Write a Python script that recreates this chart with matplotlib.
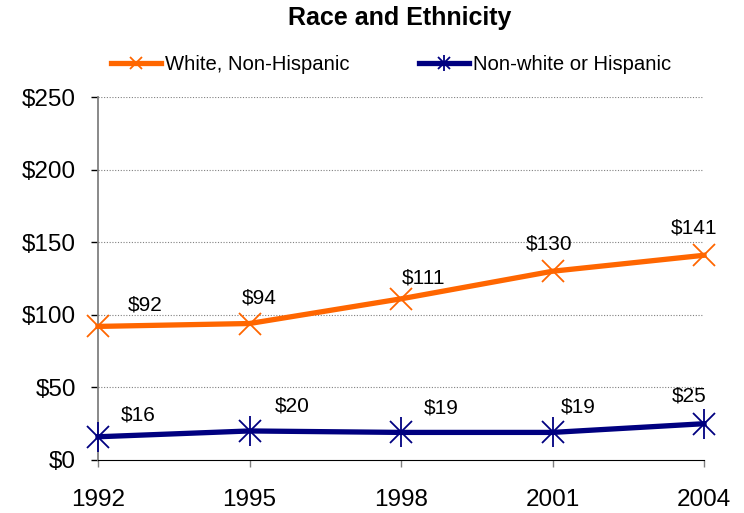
import matplotlib
matplotlib.use('Agg')
from matplotlib import pyplot as plt
from matplotlib.lines import Line2D
from matplotlib.legend_handler import HandlerTuple
import numpy as np

plt.rcParams['font.family'] = ['Liberation Sans', 'DejaVu Sans']

years = [1992, 1995, 1998, 2001, 2004]
white = [92, 94, 111, 130, 141]
nonwhite = [16, 20, 19, 19, 25]
series_names = ['White, Non-Hispanic', 'Non-white or Hispanic']
yticks = [0, 50, 100, 150, 200, 250]

# label offsets in pixels (dx, dy) from each point
white_off = [(47, 21), (10, 26), (23, 21), (-3, 27), (-10, 27)]
nonwhite_off = [(40, 22), (43, 25), (40, 24), (26, 25), (-15, 28)]

orange = '#FF6600'
navy = '#000080'

fig = plt.figure(figsize=(7.44, 5.13), dpi=100)
ax = fig.add_axes([98/744, 1-460/513, 606/744, 363/513])

l1, = ax.plot(years, white, color=orange, lw=3.8, marker='x', ms=16,
              mew=1.3, clip_on=False, zorder=3)
l2, = ax.plot(years, nonwhite, color=navy, lw=3.8, marker='x', ms=16,
              mew=1.3, clip_on=False, zorder=3)
l2b, = ax.plot(years, nonwhite, color=navy, lw=0, marker='|', ms=22,
               mew=1.3, clip_on=False, zorder=3)

for x, y, (dx, dy) in zip(years, white, white_off):
    ax.annotate(f'${y}', (x, y), xytext=(dx, dy), textcoords='offset pixels',
                ha='center', va='center', fontsize=15)
for x, y, (dx, dy) in zip(years, nonwhite, nonwhite_off):
    ax.annotate(f'${y}', (x, y), xytext=(dx, dy), textcoords='offset pixels',
                ha='center', va='center', fontsize=15)

ax.set_xlim(1992, 2004)
ax.set_ylim(0, 250)
ax.set_xticks(years)
ax.set_yticks(yticks)
ax.set_yticklabels([f'${v}' for v in yticks])
ax.tick_params(axis='both', labelsize=17.5, length=5, width=1)
ax.tick_params(axis='x', pad=16, color='#808080')
ax.tick_params(axis='y', pad=11)

for v in yticks[1:]:
    ax.axhline(v, color='#808080', lw=0.8, ls=(0, (1, 1.5)), zorder=1)

ax.spines['top'].set_visible(False)
ax.spines['right'].set_visible(False)
ax.spines['left'].set_color('#808080')
ax.spines['left'].set_linewidth(1.3)
ax.spines['bottom'].set_color('black')
ax.spines['bottom'].set_zorder(4)

fig.text(400/744, 1-18/513, 'Race and Ethnicity', ha='center', va='center',
         fontsize=18, fontweight='bold')

h1 = Line2D([], [], color=orange, lw=3.8, marker='x', ms=8, mew=1.3)
h2a = Line2D([], [], color=navy, lw=3.8, marker='x', ms=8, mew=1.3)
h2b = Line2D([], [], color=navy, lw=0, marker='|', ms=11, mew=1.3)
fig.legend([h1, (h2a, h2b)], series_names, loc='center',
           bbox_to_anchor=(391/744, 1-65/513), ncol=2, frameon=False,
           fontsize=14.6, handlelength=2.46, handletextpad=0.2,
           columnspacing=3.4, handler_map={tuple: HandlerTuple(ndivide=1)})

fig.savefig('out.png', dpi=100)
